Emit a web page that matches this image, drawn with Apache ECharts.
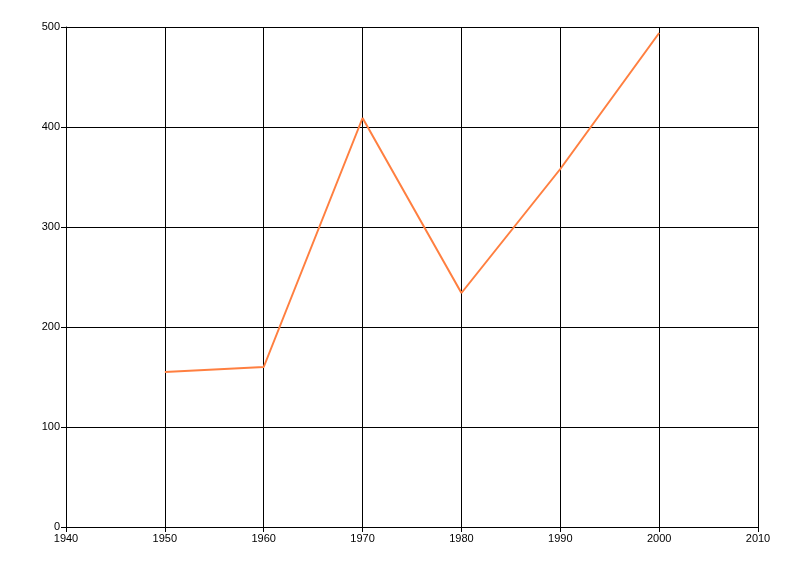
<!DOCTYPE html>
<html>
<head>
<meta charset="utf-8">
<script src="https://cdn.jsdelivr.net/npm/echarts@6/dist/echarts.min.js"></script>
<style>html,body{margin:0;padding:0;background:#fff;}#c{width:800px;height:576px;}</style>
</head>
<body>
<div id="c"></div>
<script>
const years = [1950, 1960, 1970, 1980, 1990, 2000];
const values = [155, 160, 409, 234, 358, 494];

const chart = echarts.init(document.getElementById('c'));
const font = { fontFamily: 'Liberation Sans', fontSize: 11, color: '#000' };
chart.setOption({
  animation: false,
  backgroundColor: '#fff',
  grid: { left: 66, right: 42, top: 27, bottom: 49 },
  xAxis: {
    type: 'value', min: 1940, max: 2010, interval: 10,
    axisLine: { show: true, lineStyle: { color: '#000', width: 1 } },
    axisTick: { show: true, length: 5, lineStyle: { color: '#000' } },
    axisLabel: Object.assign({ margin: 6, formatter: v => String(v) }, font),
    splitLine: { show: true, lineStyle: { color: '#000', width: 1 } }
  },
  yAxis: {
    type: 'value', min: 0, max: 500, interval: 100,
    axisLine: { show: true, lineStyle: { color: '#000', width: 1 } },
    axisTick: { show: true, length: 5, lineStyle: { color: '#000' } },
    axisLabel: Object.assign({ margin: 6 }, font),
    splitLine: { show: true, lineStyle: { color: '#000', width: 1 } }
  },
  series: [{
    type: 'line',
    data: years.map((y, i) => [y, values[i]]),
    showSymbol: false,
    lineStyle: { color: '#ff7f40', width: 2 },
    itemStyle: { color: '#ff7f40' }
  }]
});
</script>
</body>
</html>
